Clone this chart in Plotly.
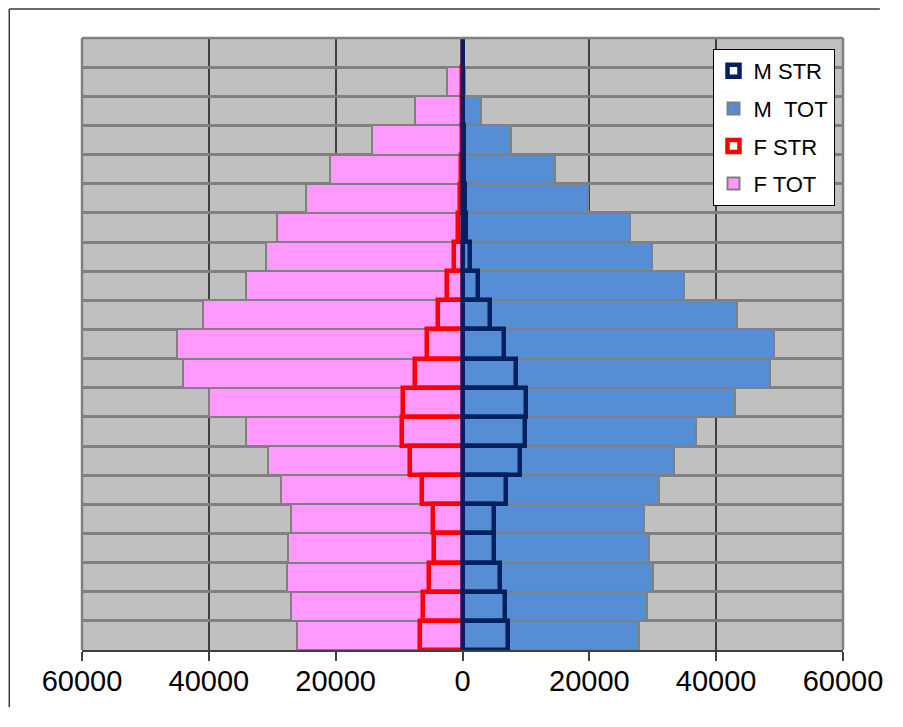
import plotly.graph_objects as go

# ---------------- data (bottom row first) ----------------
age_groups = ["0-4", "5-9", "10-14", "15-19", "20-24", "25-29", "30-34", "35-39",
              "40-44", "45-49", "50-54", "55-59", "60-64", "65-69", "70-74", "75-79",
              "80-84", "85-89", "90-94", "95-99", "100+"]

m_tot = [27780, 29160, 29980, 29460, 28670, 30920, 33380, 36890, 42970, 48560,
         49190, 43330, 34950, 29870, 26470, 19770, 14530, 7720, 2850, 450, 0]
f_tot = [26140, 27050, 27700, 27520, 27050, 28570, 30620, 34170, 39930, 44020,
         45070, 40990, 34170, 30930, 29200, 24740, 20970, 14280, 7460, 2390, 0]
m_str = [7150, 6770, 5940, 5040, 5040, 6880, 9080, 9920, 10020, 8450,
         6610, 4410, 2430, 1120, 500, 330, 250, 180, 120, 60, 20]
f_str = [6740, 6210, 5330, 4430, 4630, 6360, 8310, 9500, 9350, 7420,
         5580, 3910, 2430, 1400, 770, 450, 250, 120, 60, 20, 0]

series_names = ["M STR", "M \u00a0TOT", "F STR", "F TOT"]
tick_values = [-60000, -40000, -20000, 0, 20000, 40000, 60000]
tick_labels = ["60000", "40000", "20000", "0", "20000", "40000", "60000"]

# ---------------- layout geometry (pixels) ----------------
OFF = 8                      # page body margin
W, H = 903 - 2 * OFF, 727 - 2 * OFF
PLOT_L, PLOT_R, PLOT_T, PLOT_B = 82, 846, 38, 650   # plot area in page pixels
L = PLOT_L - OFF
T = PLOT_T - OFF
R = W - (PLOT_R - OFF)
B = H - (PLOT_B - OFF)
pw, ph = W - L - R, H - T - B


def px_x(x):
    return (x - OFF - L) / pw


def px_y(y):
    return 1 - (y - OFF - T) / ph


FONT = "Arial, Liberation Sans, sans-serif"
PINK = "#FF99FF"
BLUE = "#558ED5"
NAVY = "#002060"
RED = "#FF0000"
GRID = "#808080"

fig = go.Figure()

fig.add_trace(go.Bar(
    y=age_groups, x=[-v for v in f_tot], orientation="h", name=series_names[3],
    marker=dict(color=PINK, line=dict(color=GRID, width=2)),
    legendrank=4, legendgroup="g4"))
fig.add_trace(go.Bar(
    y=age_groups, x=m_tot, orientation="h", name=series_names[1],
    marker=dict(color=BLUE, line=dict(color=GRID, width=2)),
    legendrank=2, legendgroup="g2"))
fig.add_trace(go.Bar(
    y=age_groups, x=[-v for v in f_str], orientation="h", name=series_names[2],
    marker=dict(color="rgba(0,0,0,0)", line=dict(color=RED, width=4.5)),
    legendrank=3, legendgroup="g3"))
fig.add_trace(go.Bar(
    y=age_groups, x=m_str, orientation="h", name=series_names[0],
    marker=dict(color="rgba(0,0,0,0)", line=dict(color=NAVY, width=4.5)),
    legendrank=1, legendgroup="g1"))

shapes = [
    # outer chart frame: only its left and top edges fall inside the picture
    dict(type="line", xref="paper", yref="paper",
         x0=px_x(9), x1=px_x(9), y0=px_y(H - 4), y1=px_y(9),
         line=dict(color="#3a3a3a", width=1.5), layer="below"),
    dict(type="line", xref="paper", yref="paper",
         x0=px_x(9), x1=px_x(W - 4), y0=px_y(9), y1=px_y(9),
         line=dict(color="#3a3a3a", width=1.5), layer="below"),
    # plot area frame: left, top, right in gray
    dict(type="line", xref="paper", yref="paper", x0=0, x1=0, y0=0, y1=1,
         line=dict(color=GRID, width=2.5), layer="above"),
    dict(type="line", xref="paper", yref="paper", x0=0, x1=1, y0=1, y1=1,
         line=dict(color=GRID, width=2.5), layer="above"),
    dict(type="line", xref="paper", yref="paper", x0=1, x1=1, y0=0, y1=1,
         line=dict(color=GRID, width=2.5), layer="above"),
]

fig.update_layout(
    width=W, height=H,
    margin=dict(l=L, r=R, t=T, b=B, pad=0),
    paper_bgcolor="white",
    plot_bgcolor="#C0C0C0",
    barmode="overlay",
    bargap=0,
    font=dict(family=FONT, color="black"),
    shapes=shapes,
    showlegend=True,
    legend=dict(
        x=px_x(715), y=px_y(49), xanchor="left", yanchor="top",
        bgcolor="white", bordercolor="black", borderwidth=1,
        font=dict(family=FONT, size=22, color="black"),
        traceorder="grouped", tracegroupgap=6,
    ),
)

fig.update_xaxes(
    range=[-60000, 60000], tickvals=tick_values, ticktext=tick_labels,
    showgrid=True, gridcolor="#404040", gridwidth=1.5, zeroline=False,
    showline=True, linecolor="#404040", linewidth=2,
    ticks="outside", ticklen=9, tickwidth=1.5, tickcolor="#404040",
    tickfont=dict(family=FONT, size=29, color="black"),
    ticklabelstandoff=-5, fixedrange=True,
)
fig.update_yaxes(
    type="category", categoryorder="array", categoryarray=age_groups,
    range=[-0.5, len(age_groups) - 0.5],
    tickson="boundaries", ticks="", showticklabels=False,
    showgrid=True, gridcolor=GRID, gridwidth=2.5, zeroline=False,
    showline=False, fixedrange=True,
)

fig.write_html("out.html")
